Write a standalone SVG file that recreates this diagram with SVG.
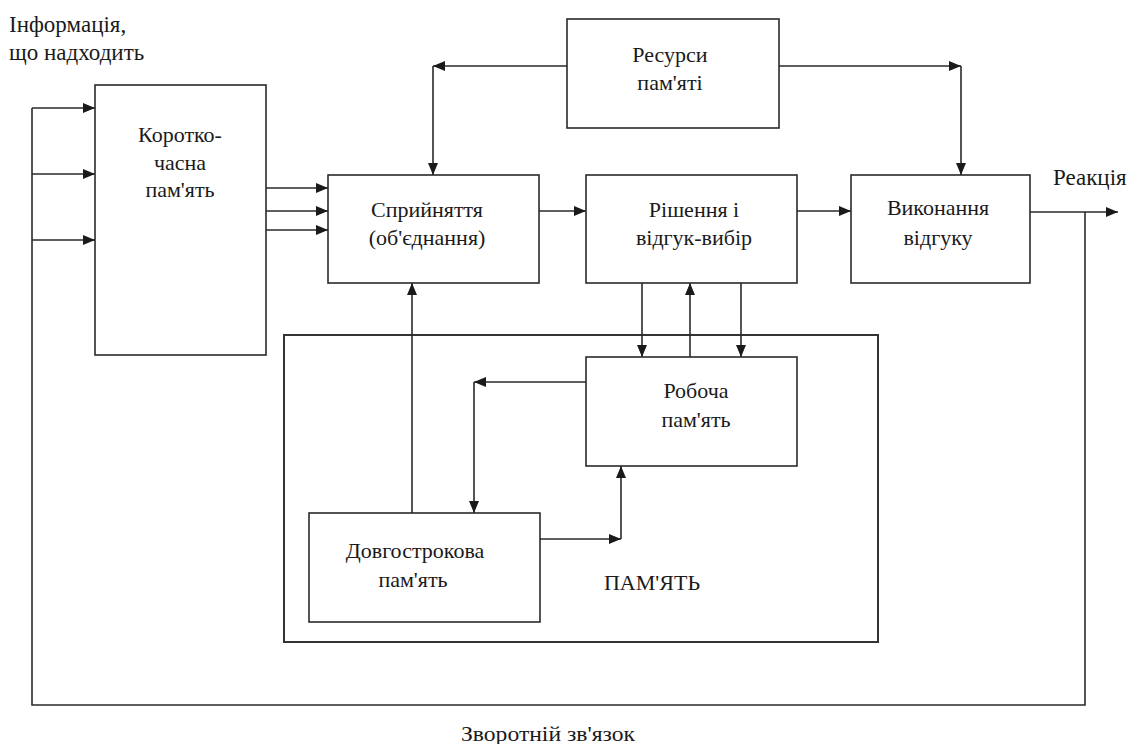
<svg xmlns="http://www.w3.org/2000/svg" width="1138" height="744" viewBox="0 0 1138 744">
  <style>
    .box { fill: #ffffff; stroke: #2a2a2a; stroke-width: 1.6; }
    .frame { fill: none; stroke: #333333; stroke-width: 2; }
    .wire { fill: none; stroke: #2a2a2a; stroke-width: 1.6; }
    .arr { fill: none; stroke: #2a2a2a; stroke-width: 1.6; marker-end: url(#head); }
    text { font-family: "Liberation Serif", Tinos, "Times New Roman", Times, "Noto Serif", "DejaVu Serif", FreeSerif, serif; }
    .t { font-size: 22px; fill: #1a1a1a; text-anchor: middle; }
    .tl { font-size: 23px; fill: #1a1a1a; }
  </style>
  <defs>
    <marker id="head" viewBox="0 0 12 10" refX="12" refY="5" markerWidth="12" markerHeight="10" markerUnits="userSpaceOnUse" orient="auto">
      <path d="M0,0 L12,5 L0,10 Z" fill="#1a1a1a"/>
    </marker>
  </defs>
  <rect width="1138" height="744" fill="#ffffff"/>

  <!-- outer memory frame -->
  <g id="memory">
    <rect class="frame" x="284" y="335" width="594" height="307"/>
    <text class="t" x="652" y="590">ПАМ'ЯТЬ</text>
  </g>

  <!-- connectors -->
  <g id="connectors">
    <!-- incoming information and feedback loop -->
    <polyline class="wire" points="1085,212 1085,705 32,705 32,108"/>
    <line class="arr" x1="32" y1="108" x2="95" y2="108"/>
    <line class="arr" x1="32" y1="174" x2="95" y2="174"/>
    <line class="arr" x1="32" y1="240" x2="95" y2="240"/>
    <!-- short-term to perception -->
    <line class="arr" x1="266" y1="188" x2="328" y2="188"/>
    <line class="arr" x1="266" y1="211" x2="328" y2="211"/>
    <line class="arr" x1="266" y1="230" x2="328" y2="230"/>
    <!-- main chain -->
    <line class="arr" x1="539" y1="211" x2="586" y2="211"/>
    <line class="arr" x1="797" y1="211" x2="851" y2="211"/>
    <line class="arr" x1="1030" y1="212" x2="1118" y2="212"/>
    <!-- memory resources -->
    <line class="arr" x1="567" y1="66" x2="433" y2="66"/>
    <line class="arr" x1="433" y1="66" x2="433" y2="175"/>
    <line class="arr" x1="779" y1="66" x2="961" y2="66"/>
    <line class="arr" x1="961" y1="66" x2="961" y2="175"/>
    <!-- decision <-> working memory -->
    <line class="arr" x1="642" y1="283" x2="642" y2="357"/>
    <line class="arr" x1="690" y1="357" x2="690" y2="283"/>
    <line class="arr" x1="741" y1="283" x2="741" y2="357"/>
    <!-- long-term to perception -->
    <line class="arr" x1="412" y1="513" x2="412" y2="283"/>
    <!-- working -> long-term -->
    <line class="arr" x1="586" y1="382" x2="474" y2="382"/>
    <line class="arr" x1="474" y1="382" x2="474" y2="513"/>
    <!-- long-term -> working -->
    <line class="arr" x1="540" y1="539" x2="621" y2="539"/>
    <line class="arr" x1="621" y1="539" x2="621" y2="466"/>
  </g>

  <g id="short-term">
    <rect class="box" x="95" y="85" width="171" height="270"/>
    <text class="t" x="180" y="142">Коротко-</text>
    <text class="t" x="180" y="170">часна</text>
    <text class="t" x="180" y="197">пам'ять</text>
  </g>

  <g id="resources">
    <rect class="box" x="567" y="19" width="212" height="109"/>
    <text class="t" x="670" y="62">Ресурси</text>
    <text class="t" x="670" y="90">пам'яті</text>
  </g>

  <g id="perception">
    <rect class="box" x="328" y="175" width="211" height="108"/>
    <text class="t" x="427" y="217">Сприйняття</text>
    <text class="t" x="427" y="245">(об'єднання)</text>
  </g>

  <g id="decision">
    <rect class="box" x="586" y="175" width="211" height="108"/>
    <text class="t" x="694" y="217">Рішення і</text>
    <text class="t" x="694" y="245">відгук-вибір</text>
  </g>

  <g id="execution">
    <rect class="box" x="851" y="175" width="179" height="108"/>
    <text class="t" x="938" y="215">Виконання</text>
    <text class="t" x="938" y="245">відгуку</text>
  </g>

  <g id="working">
    <rect class="box" x="586" y="357" width="211" height="109"/>
    <text class="t" x="696" y="398">Робоча</text>
    <text class="t" x="696" y="427">пам'ять</text>
  </g>

  <g id="long-term">
    <rect class="box" x="309" y="513" width="231" height="109"/>
    <text class="t" x="415" y="558">Довгострокова</text>
    <text class="t" x="413" y="587">пам'ять</text>
  </g>

  <!-- free labels -->
  <g id="labels">
    <text class="tl" x="9" y="32">Інформація,</text>
    <text class="tl" x="9" y="60">що надходить</text>
    <text class="tl" x="1053" y="185">Реакція</text>
    <text class="t" x="548" y="741" textLength="174" lengthAdjust="spacingAndGlyphs">Зворотній зв'язок</text>
  </g>
</svg>
